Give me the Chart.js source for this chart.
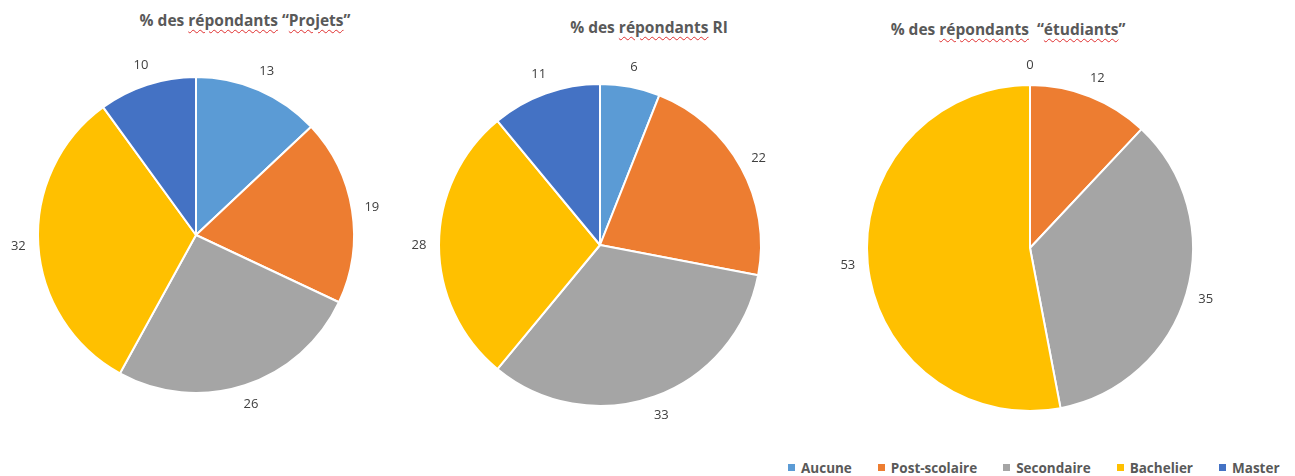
<!DOCTYPE html>
<html><head><meta charset="utf-8">
<script src="https://cdn.jsdelivr.net/npm/chart.js@4"></script>
<style>
html,body{margin:0;padding:0;background:#fff;width:1295px;height:476px;overflow:hidden;font-family:Lato,"Open Sans",sans-serif;}
.box{position:absolute;}
.title{position:absolute;font-family:"Open Sans",sans-serif;font-weight:bold;font-size:15.5px;color:#595959;white-space:pre;transform:translateX(-50%);}
.sq{text-decoration:underline wavy #e03030;text-decoration-thickness:1px;text-underline-offset:3px;}
#legend{position:absolute;left:788px;top:459px;font-family:"Open Sans",sans-serif;font-size:13.5px;font-weight:bold;color:#595959;white-space:nowrap;}
#legend span.it{margin-right:26px;}
#legend i{display:inline-block;width:7px;height:7px;margin-right:6px;vertical-align:2px;}
</style></head><body>
<div class="title" style="left:245px;top:9px;">% des <span class="sq">répondants</span> “<span class="sq">Projets</span>”</div>
<div class="title" style="left:649px;top:16px;">% des <span class="sq">répondants</span> RI</div>
<div class="title" style="left:1008px;top:18px;">% des <span class="sq">répondants</span>  “<span class="sq">étudiants</span>”</div>
<div class="box" id="b1"><canvas id="c1"></canvas></div>
<div class="box" id="b2"><canvas id="c2"></canvas></div>
<div class="box" id="b3"><canvas id="c3"></canvas></div>
<div id="legend"></div>
<script>
const categories = ["Aucune","Post-scolaire","Secondaire","Bachelier","Master"];
const colors = ["#5B9BD5","#ED7D31","#A5A5A5","#FFC000","#4472C4"];
const projets = [13,19,26,32,10];
const ri = [6,22,33,28,11];
const etudiants = [0,12,35,53,null];

const PAD = 40;
const labelPlugin = {
  id:'outLabels',
  afterDatasetsDraw(chart){
    const ctx = chart.ctx;
    const meta = chart.getDatasetMeta(0);
    const data = chart.data.datasets[0].data;
    ctx.save();
    ctx.font = '13px "Open Sans", sans-serif';
    ctx.fillStyle = '#404040';
    ctx.textAlign='center';ctx.textBaseline='middle';
    meta.data.forEach((arc,i)=>{
      if(data[i]===null||data[i]===undefined) return;
      const p = arc.getProps(['x','y','startAngle','endAngle','outerRadius'],true);
      const a=(p.startAngle+p.endAngle)/2;
      const d=p.outerRadius+20;
      ctx.fillText(String(data[i]), p.x+Math.cos(a)*d, p.y+Math.sin(a)*d);
    });
    ctx.restore();
  }
};

function makePie(boxId, canvasId, values, cx, cy, r){
  const size = 2*(r+PAD);
  const box=document.getElementById(boxId);
  box.style.left=(cx-size/2)+'px'; box.style.top=(cy-size/2)+'px';
  box.style.width=size+'px'; box.style.height=size+'px';
  new Chart(document.getElementById(canvasId),{
    type:'pie',
    data:{labels:categories,datasets:[{data:values,backgroundColor:colors,borderColor:'#ffffff',borderWidth:2}]},
    options:{responsive:true,maintainAspectRatio:false,animation:false,
      layout:{padding:PAD},
      plugins:{legend:{display:false},tooltip:{enabled:false}}},
    plugins:[labelPlugin]
  });
}
makePie('b1','c1',projets,196,235,159);
makePie('b2','c2',ri,600,245,162);
makePie('b3','c3',etudiants,1030,248,164);

const lg=document.getElementById('legend');
categories.forEach((c,i)=>{
  const s=document.createElement('span');s.className='it';
  s.innerHTML='<i style="background:'+colors[i]+'"></i>'+c;
  lg.appendChild(s);
});
</script>
</body></html>
